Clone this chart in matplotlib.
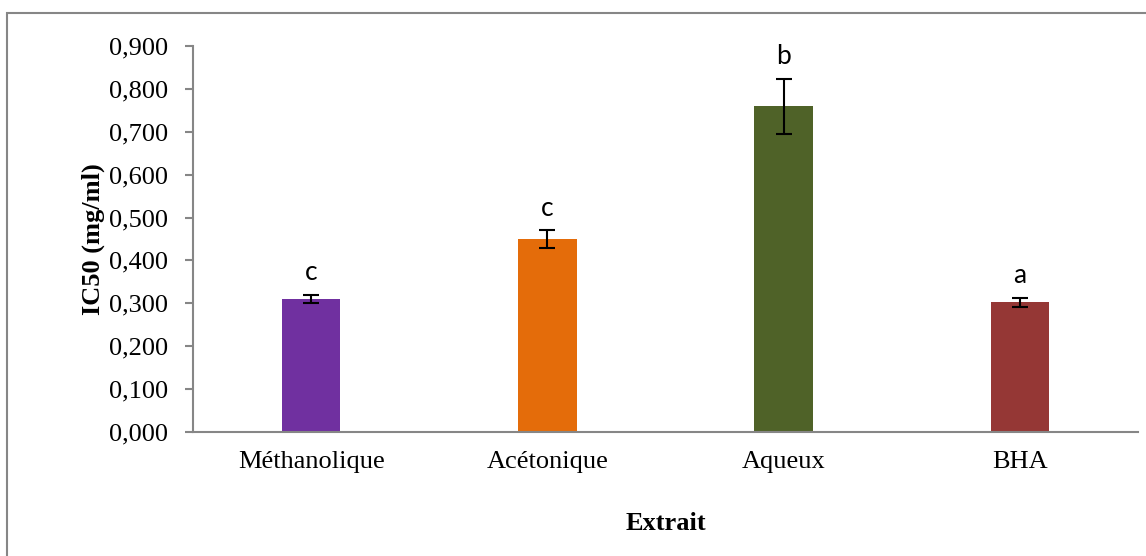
import matplotlib.pyplot as plt
from matplotlib.patches import Rectangle
from matplotlib.ticker import FuncFormatter

# data
extraits = ['Méthanolique', 'Acétonique', 'Aqueux', 'BHA']
ic50 = [0.310, 0.450, 0.759, 0.302]
ic50_err = [0.009, 0.020, 0.064, 0.011]
lettres = ['c', 'c', 'b', 'a']
couleurs = ['#7030A0', '#E46C0A', '#4F6228', '#953735']

AXIS_GREY = '#868686'

plt.rcParams['font.family'] = ['Liberation Serif', 'DejaVu Serif']

fig = plt.figure(figsize=(11.46, 5.56), dpi=100)
ax = fig.add_axes([0.1684, 0.2230, 0.8246, 0.6943])

# outer frame (only top and left visible in the reference)
fig.patches.append(Rectangle((7 / 1146, -0.2), 1.5, 1.2 - 13 / 556,
                             transform=fig.transFigure, fill=False,
                             edgecolor=AXIS_GREY, linewidth=1.5, zorder=0))

x = list(range(len(extraits)))
ax.bar(x, ic50, width=0.248, color=couleurs, zorder=2)
ax.errorbar(x, ic50, yerr=ic50_err, fmt='none', ecolor='black',
            elinewidth=1.5, capsize=6, capthick=1.5, zorder=3)

for xi, v, e, l in zip(x, ic50, ic50_err, lettres):
    ax.annotate(l, (xi, v + e), xytext=(0, 7), textcoords='offset points',
                ha='center', va='bottom', fontsize=19, family=['Lato', 'DejaVu Sans'])

ax.set_xlim(-0.5, len(extraits) - 0.5)
ax.set_ylim(0, 0.9)
ax.set_yticks([i / 10 for i in range(10)])
ax.yaxis.set_major_formatter(FuncFormatter(lambda v, p: f'{v:.3f}'.replace('.', ',')))
ax.set_xticks(x)
ax.set_xticklabels(extraits)

ax.tick_params(axis='y', length=6, width=1.5, color=AXIS_GREY, labelsize=19, pad=12)
ax.tick_params(axis='x', length=0, labelsize=19, pad=14)

for side in ['top', 'right']:
    ax.spines[side].set_visible(False)
for side in ['left', 'bottom']:
    ax.spines[side].set_color(AXIS_GREY)
    ax.spines[side].set_linewidth(1.5)

ax.set_ylabel('IC50 (mg/ml)', fontsize=19, fontweight='bold', labelpad=3)
ax.set_xlabel('Extrait', fontsize=19, fontweight='bold', labelpad=28)

fig.savefig('out.png', dpi=100)
